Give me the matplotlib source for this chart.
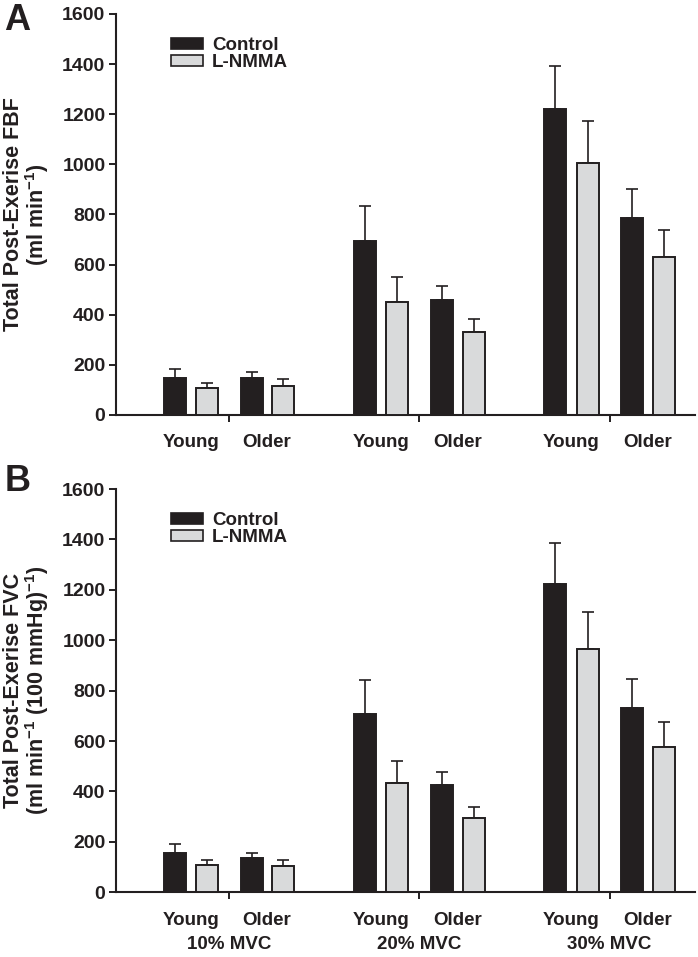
import matplotlib
matplotlib.use("Agg")
import matplotlib.pyplot as plt
from matplotlib.patches import Patch
import numpy as np

plt.rcParams['font.family'] = ['Liberation Sans', 'DejaVu Sans']
plt.rcParams['font.weight'] = 'bold'
plt.rcParams['mathtext.fontset'] = 'custom'
plt.rcParams['mathtext.rm'] = 'Liberation Sans:bold'
plt.rcParams['mathtext.it'] = 'Liberation Sans:bold'
plt.rcParams['mathtext.bf'] = 'Liberation Sans:bold'
plt.rcParams['mathtext.default'] = 'rm'

# ---- data ----
intensities = ["10% MVC", "20% MVC", "30% MVC"]
ages = ["Young", "Older"]
series_names = ["Control", "L-NMMA"]

# Panel A: Total post-exercise FBF (ml/min)
fbf_ctrl_young = [149, 695, 1222]
fbf_ctrl_young_se = [35, 140, 172]
fbf_lnmma_young = [109, 452, 1007]
fbf_lnmma_young_se = [20, 100, 166]
fbf_ctrl_older = [146, 458, 786]
fbf_ctrl_older_se = [27, 58, 114]
fbf_lnmma_older = [117, 332, 632]
fbf_lnmma_older_se = [25, 50, 105]

# Panel B: Total post-exercise FVC (ml/min/100 mmHg)
fvc_ctrl_young = [155, 706, 1223]
fvc_ctrl_young_se = [35, 137, 164]
fvc_lnmma_young = [108, 432, 966]
fvc_lnmma_young_se = [19, 88, 145]
fvc_ctrl_older = [135, 424, 732]
fvc_ctrl_older_se = [21, 54, 114]
fvc_lnmma_older = [104, 295, 576]
fvc_lnmma_older_se = [23, 42, 101]

yticks = [0, 200, 400, 600, 800, 1000, 1200, 1400, 1600]

TXT = '#231f20'
BLACK = '#231f20'
GRAY = '#d9dadb'

fig = plt.figure(figsize=(6.98, 9.57), dpi=100)
axA = fig.add_axes([0.166, 0.5664, 0.830, 0.419])
axB = fig.add_axes([0.166, 0.0676, 0.830, 0.4214])

offsets = [-0.285, -0.115, 0.12, 0.285]
width = 0.116
xg = np.arange(len(intensities))


def draw(ax, vals, errs, ylabel, show_mvc):
    colors = [BLACK, GRAY, BLACK, GRAY]
    for off, v, e, c in zip(offsets, vals, errs, colors):
        ax.bar(xg + off, v, width, color=c, edgecolor=TXT, linewidth=1.4, zorder=3)
        ax.errorbar(xg + off, v, yerr=[np.zeros(len(e)), e], fmt='none',
                    ecolor=TXT, elinewidth=1.2, capsize=4, capthick=1.2, zorder=2)
    ax.set_ylim(0, 1600)
    ax.set_xlim(-0.595, 2.45)
    ax.set_yticks(yticks)
    ax.set_yticklabels([str(t) for t in yticks], fontsize=14, fontweight='bold', color=TXT)
    ax.set_xticks(xg)
    ax.set_xticklabels([])
    ax.tick_params(axis='both', direction='out', length=5, width=1.4, color=TXT, pad=2.5)
    for s in ['top', 'right']:
        ax.spines[s].set_visible(False)
    for s in ['left', 'bottom']:
        ax.spines[s].set_linewidth(1.5)
        ax.spines[s].set_color(TXT)
    for i in xg:
        for dx, lab in zip([-0.2, 0.2], ages):
            ax.annotate(lab, xy=(i + dx, 0), xycoords=('data', 'axes fraction'),
                        xytext=(0, -20), textcoords='offset points',
                        ha='center', va='center', fontsize=13.5, fontweight='bold', color=TXT)
        if show_mvc:
            ax.annotate(intensities[i], xy=(i, 0), xycoords=('data', 'axes fraction'),
                        xytext=(0, -37.5), textcoords='offset points',
                        ha='center', va='center', fontsize=13.5, fontweight='bold', color=TXT)
    ax.set_ylabel(ylabel, fontsize=15.5, fontweight='bold', color=TXT, linespacing=0.95)
    ax.yaxis.set_label_coords(-0.112, 0.5)
    handles = [Patch(facecolor=BLACK, edgecolor=TXT, linewidth=1.2),
               Patch(facecolor=GRAY, edgecolor=TXT, linewidth=1.2)]
    leg = ax.legend(handles, series_names, loc='upper left', bbox_to_anchor=(0.095, 0.942),
                    frameon=False, fontsize=13.5, handlelength=1.7, handleheight=0.55,
                    handletextpad=0.5, labelspacing=0.0, borderpad=0, borderaxespad=0)
    for t in leg.get_texts():
        t.set_color(TXT)
        t.set_fontweight('bold')


draw(axA,
     [fbf_ctrl_young, fbf_lnmma_young, fbf_ctrl_older, fbf_lnmma_older],
     [fbf_ctrl_young_se, fbf_lnmma_young_se, fbf_ctrl_older_se, fbf_lnmma_older_se],
     "Total Post-Exerise FBF\n(ml min$^{-1}$)", False)
draw(axB,
     [fvc_ctrl_young, fvc_lnmma_young, fvc_ctrl_older, fvc_lnmma_older],
     [fvc_ctrl_young_se, fvc_lnmma_young_se, fvc_ctrl_older_se, fvc_lnmma_older_se],
     "Total Post-Exerise FVC\n(ml min$^{-1}$ (100 mmHg)$^{-1}$)", True)

fig.text(0.006, 0.979, "A", fontsize=26, fontweight='bold', color=TXT, va='center', ha='left')
fig.text(0.006, 0.497, "B", fontsize=26, fontweight='bold', color=TXT, va='center', ha='left')

fig.savefig("out.png", dpi=100)
